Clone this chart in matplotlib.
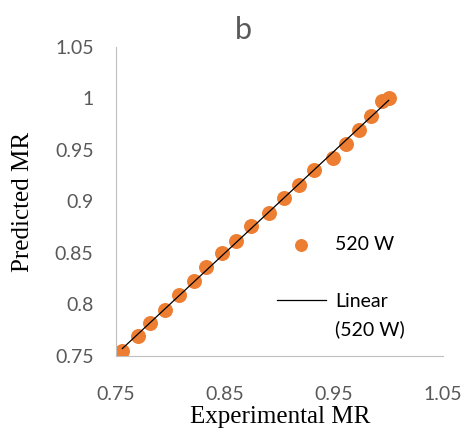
import matplotlib.pyplot as plt
import numpy as np

# experimental vs predicted moisture ratio, 520 W
exp_mr = [0.756, 0.770, 0.781, 0.795, 0.808, 0.822, 0.833, 0.847, 0.860, 0.874,
          0.890, 0.904, 0.918, 0.932, 0.949, 0.961, 0.973, 0.984, 0.994, 1.000]
pred_mr = [0.755, 0.769, 0.782, 0.795, 0.809, 0.823, 0.836, 0.850, 0.862, 0.876,
           0.889, 0.903, 0.916, 0.930, 0.942, 0.956, 0.969, 0.983, 0.997, 1.000]
xticks = [0.75, 0.85, 0.95, 1.05]
yticks = [0.75, 0.8, 0.85, 0.9, 0.95, 1.0, 1.05]
ytick_labels = ["0.75", "0.8", "0.85", "0.9", "0.95", "1", "1.05"]

fig = plt.figure(figsize=(4.69, 4.34), dpi=100)
ax = fig.add_axes([0.247, 0.180, 0.698, 0.712])

ax.scatter(exp_mr, pred_mr, s=95, color="#ed7d31", zorder=2, label="520 W")
coef = np.polyfit(exp_mr, pred_mr, 1)
xs = np.array([min(exp_mr), max(exp_mr)])
ax.plot(xs, np.polyval(coef, xs), color="black", lw=0.9, zorder=3, label="Linear")

ax.set_xlim(0.75, 1.05)
ax.set_ylim(0.75, 1.05)
ax.set_xticks(xticks)
ax.set_xticklabels([f"{v:.2f}" for v in xticks])
ax.set_yticks(yticks)
ax.set_yticklabels(ytick_labels)
ax.tick_params(length=0, labelsize=14, labelcolor="#595959")
ax.tick_params(axis="y", pad=16)
ax.tick_params(axis="x", pad=22)
for t in ax.get_xticklabels() + ax.get_yticklabels():
    t.set_family("Lato")
for s in ["top", "right"]:
    ax.spines[s].set_visible(False)
for s in ["left", "bottom"]:
    ax.spines[s].set_color("#bfbfbf")

fig.text(280 / 469, 1 - 417 / 434, "Experimental MR", family="Liberation Serif",
         fontsize=18, ha="center", va="center")
fig.text(23 / 469, 1 - 202 / 434, "Predicted MR", family="Liberation Serif",
         fontsize=18, rotation=90, ha="center", va="center")
fig.text(243 / 469, 1 - 30 / 434, "b", family="Lato", fontsize=22, color="#595959",
         ha="center", va="center")

handles, labels = ax.get_legend_handles_labels()
ax.legend(handles, labels, loc="upper left", bbox_to_anchor=(0.492, 0.388),
          frameon=False, prop={"family": "Lato", "size": 14},
          borderpad=0, borderaxespad=0, labelspacing=2.05,
          handlelength=2.5, handletextpad=0.5, markerscale=0.85)
ax.text(0.670, 0.087, "(520 W)", transform=ax.transAxes, family="Lato",
        fontsize=14, va="center", ha="left")

fig.savefig("out.png", dpi=100)
